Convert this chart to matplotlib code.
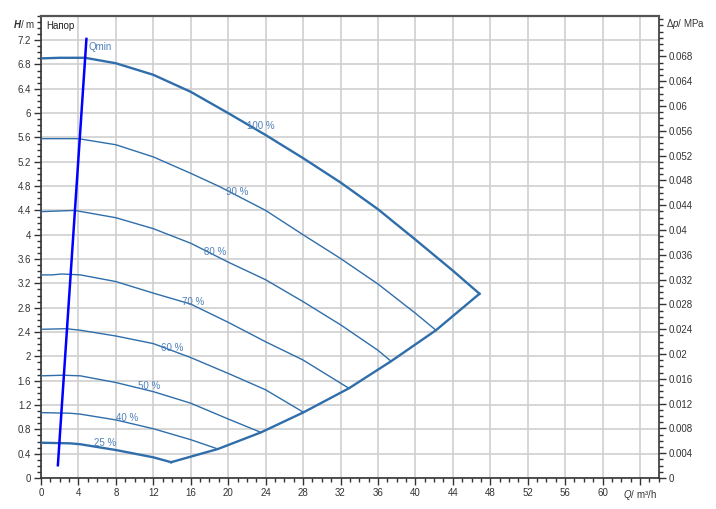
import numpy as np
import matplotlib.pyplot as plt
from matplotlib.ticker import MultipleLocator, FixedLocator, FuncFormatter

plt.rcParams['font.family'] = ['Liberation Sans', 'DejaVu Sans']
plt.rcParams['mathtext.fontset'] = 'custom'
plt.rcParams['mathtext.rm'] = 'Liberation Sans'
plt.rcParams['mathtext.it'] = 'Liberation Sans:italic'
plt.rcParams['mathtext.bf'] = 'Liberation Sans:bold:italic'

# pump curves: flow Q (m3/h) and head H (m)
q_100 = [0, 2, 4.7, 8, 12, 16, 20, 24, 28, 32, 36, 40, 44, 46.85]
h_100 = [6.90, 6.91, 6.91, 6.82, 6.63, 6.35, 6.00, 5.64, 5.26, 4.86, 4.42, 3.92, 3.41, 3.03]

q_90 = [0, 4, 8, 12, 16, 19.1, 24, 28, 32, 36, 40, 42.2]
h_90 = [5.58, 5.58, 5.48, 5.28, 5.01, 4.79, 4.40, 4.00, 3.61, 3.19, 2.71, 2.43]

q_80 = [0, 3.6, 8, 12, 16, 20, 24, 28, 32, 36, 37.4]
h_80 = [4.38, 4.40, 4.28, 4.10, 3.86, 3.55, 3.26, 2.90, 2.52, 2.10, 1.92]

q_70 = [0, 1.2, 2.2, 4.2, 8, 12, 16, 20, 24, 28, 32.9]
h_70 = [3.34, 3.34, 3.355, 3.34, 3.23, 3.04, 2.86, 2.56, 2.24, 1.94, 1.475]

q_60 = [0, 2.7, 4.2, 8, 12, 16, 20, 24, 28.05]
h_60 = [2.445, 2.455, 2.43, 2.335, 2.21, 1.98, 1.72, 1.45, 1.08]

q_50 = [0, 2.4, 4.2, 8, 12, 16, 20, 23.5]
h_50 = [1.68, 1.69, 1.68, 1.57, 1.42, 1.23, 0.97, 0.75]

q_40 = [0, 3.1, 4.2, 8, 12, 16, 18.9]
h_40 = [1.075, 1.065, 1.05, 0.955, 0.81, 0.63, 0.477]

q_25 = [0, 3.1, 4.2, 8, 12, 13.9]
h_25 = [0.58, 0.57, 0.555, 0.46, 0.34, 0.26]

# max-flow envelope through the curve ends
q_env = [13.9, 18.9, 23.5, 28.05, 32.9, 37.4, 42.2, 46.85]
h_env = [0.26, 0.477, 0.75, 1.08, 1.475, 1.92, 2.43, 3.03]

# Qmin line
q_min = [1.8, 4.85]
h_min = [0.21, 7.22]

labels = ['100 %', '90 %', '80 %', '70 %', '60 %', '50 %', '40 %', '25 %']
label_q = [23.5, 21.0, 18.6, 16.3, 14.0, 11.6, 9.2, 6.8]
label_h = [5.79, 4.70, 3.72, 2.89, 2.14, 1.51, 0.99, 0.575]

x_ticks = list(range(0, 65, 4))
x_ticklabels = [str(v) for v in range(0, 61, 4)] + ['$Q$/ m³/h']

curve_col = '#2f6eaa'
text_col = '#4f81b9'
axis_col = '#333333'

fig = plt.figure(figsize=(7.16, 5.09), dpi=100)
ax = fig.add_axes([0.0573, 0.0609, 0.8627, 0.908])

ax.set_xlim(0, 66)
ax.set_ylim(0, 7.6)

thin = [(q_90, h_90), (q_80, h_80), (q_70, h_70), (q_60, h_60), (q_50, h_50), (q_40, h_40)]
for q, h in thin:
    ax.plot(q, h, color=curve_col, lw=1.0, zorder=3)
for q, h in [(q_100, h_100), (q_25, h_25), (q_env, h_env)]:
    ax.plot(q, h, color=curve_col, lw=1.7, zorder=3, solid_joinstyle='miter')

ax.plot(q_min, h_min, color='#0000ff', lw=1.8, zorder=4)
ax.text(5.1, 7.09, 'Qmin', color=text_col, fontsize=7, va='center', ha='left')

for lab, xq, yh in zip(labels, label_q, label_h):
    ax.text(xq, yh, lab, color=text_col, fontsize=7, ha='center', va='center', zorder=5)

ax.text(0.6, 7.43, 'Напор', color='#222222', fontsize=7, ha='left', va='center')

# grid and ticks
ax.xaxis.set_major_locator(FixedLocator(x_ticks))
ax.set_xticklabels(x_ticklabels)
ax.xaxis.set_minor_locator(MultipleLocator(1))
ax.yaxis.set_major_locator(FixedLocator(np.arange(0, 7.3, 0.4)))
ax.yaxis.set_major_formatter(FuncFormatter(lambda v, p: '%g' % round(v, 2)))
ax.yaxis.set_minor_locator(MultipleLocator(0.1))
ax.grid(True, which='major', color='#cfcfcf', lw=1.2, zorder=0)
ax.set_axisbelow(True)

ax.tick_params(which='major', direction='out', length=5, width=1, colors=axis_col,
               labelsize=7, pad=2)
ax.tick_params(which='minor', direction='out', length=3, width=1, colors=axis_col)

for s in ax.spines.values():
    s.set_color(axis_col)
    s.set_linewidth(1.2)
ax.spines['top'].set_linewidth(1.6)
ax.spines['top'].set_color('#555555')

ax.text(-0.6, 7.46, '$\\mathbf{H}$/ m', fontsize=7, ha='right', va='center',
        color=axis_col)

# pressure axis on the right
ax2 = ax.twinx()
ax2.set_ylim(0, 7.6 * 0.00981)
ax2.yaxis.set_major_locator(FixedLocator(np.arange(0, 0.0681, 0.004)))
ax2.yaxis.set_major_formatter(FuncFormatter(lambda v, p: '%g' % round(v, 4)))
ax2.yaxis.set_minor_locator(MultipleLocator(0.001))
ax2.tick_params(which='major', direction='out', length=5, width=1, colors=axis_col,
                labelsize=7, pad=2)
ax2.tick_params(which='minor', direction='out', length=3, width=1, colors=axis_col)
for s in ax2.spines.values():
    s.set_visible(False)
ax2.text(1.012, 7.46 / 7.6, 'Δ$p$/ MPa', transform=ax2.transAxes, fontsize=7,
         ha='left', va='center', color=axis_col)

fig.savefig('out.png', dpi=100)
